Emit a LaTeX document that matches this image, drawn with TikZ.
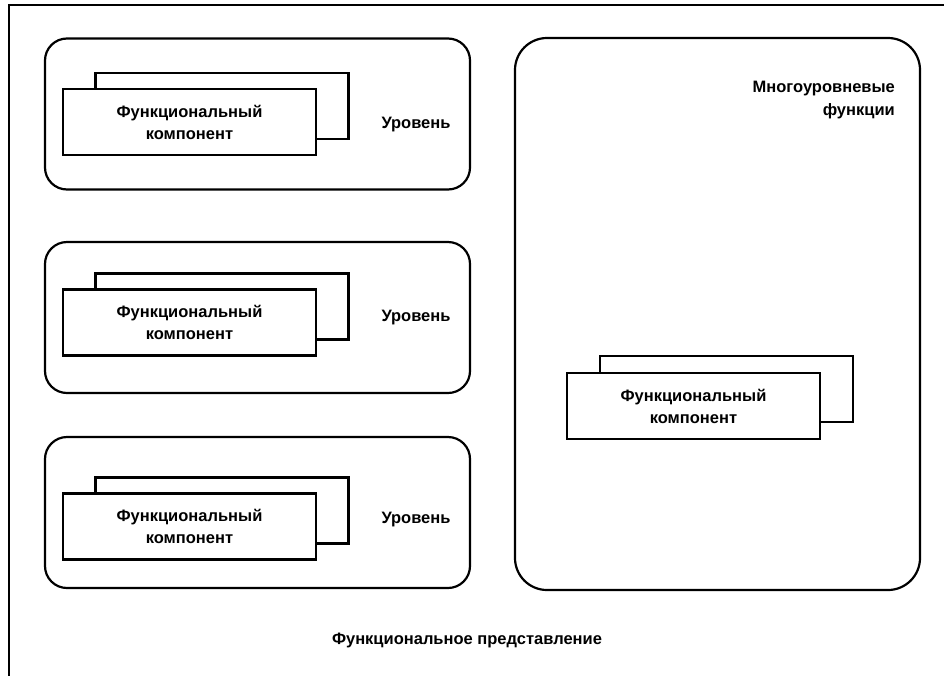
\documentclass[tikz,border=0pt]{standalone}
\usepackage{fontspec}
\setmainfont{Liberation Sans}
\begin{document}
\begin{tikzpicture}[x=1pt,y=-1pt,
  lvl/.style={draw, line width=2.2pt, rounded corners=22pt, minimum width=425pt, minimum height=151pt, inner sep=0pt, outer sep=0pt},
  comp/.style={draw, fill=white, line width=2.2pt, minimum width=253pt, minimum height=66pt, inner sep=0pt, outer sep=0pt, align=center, font=\fontsize{16.5}{22}\selectfont\bfseries},
  lbl/.style={font=\fontsize{16.5}{23}\selectfont\bfseries, inner sep=0pt}]
\useasboundingbox (0,0) rectangle (944,675);
\draw[line width=2.6pt] (9,680) -- (9,5) -- (950,5);
% levels
\node[lvl] (l1) at (257.5,114) {};
\node[lvl] (l2) at (257.5,317.5) {};
\node[lvl] (l3) at (257.5,512.5) {};
\node[comp] (b1) at (222,106) {};
\node[comp] (f1) at (189.5,122) {Функциональный\\компонент};
\node[comp] (b2) at (222,306.5) {};
\node[comp] (f2) at (189.5,322.5) {Функциональный\\компонент};
\node[comp] (b3) at (222,510.5) {};
\node[comp] (f3) at (189.5,526.5) {Функциональный\\компонент};
\node[lbl] (u1) at (416,125) {Уровень};
\node[lbl] (u2) at (416,318) {Уровень};
\node[lbl] (u3) at (416,520) {Уровень};
% multi-level
\node[draw, line width=2.2pt, rounded corners=32pt, minimum width=405pt, minimum height=552pt, inner sep=0pt, outer sep=0pt] (m) at (717.5,314) {};
\node[lbl, align=right, anchor=east] (mt) at (895,100) {Многоуровневые\\функции};
\node[comp] (bm) at (726.5,389) {};
\node[comp] (fm) at (693.5,406) {Функциональный\\компонент};
\node[lbl] (fp) at (467,640) {Функциональное представление};
\end{tikzpicture}
\end{document}
